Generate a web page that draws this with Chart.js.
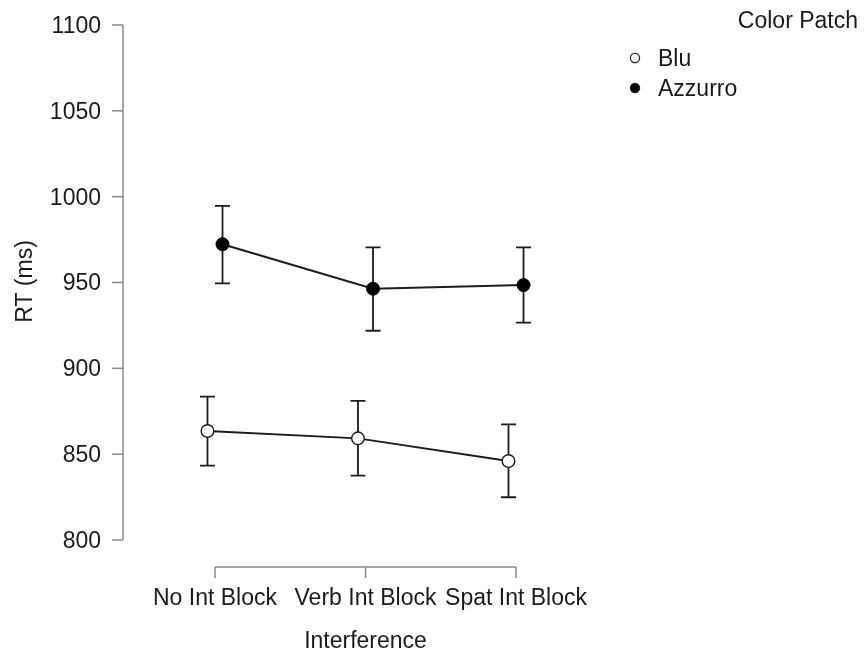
<!DOCTYPE html>
<html>
<head>
<meta charset="utf-8">
<script src="https://cdn.jsdelivr.net/npm/chart.js@4/dist/chart.umd.min.js"></script>
<style>
  html, body { margin: 0; padding: 0; background: #ffffff; }
  #wrap { width: 865px; height: 654px; }
</style>
</head>
<body>
<div id="wrap"><canvas id="c" width="865" height="654"></canvas></div>
<script>
// ---- data ----
const categories = ["No Int Block", "Verb Int Block", "Spat Int Block"];
const seriesNames = ["Blu", "Azzurro"];
const bluMean  = [863.5, 859.2, 846.0];
const bluUpper = [883.5, 881.0, 867.4];
const bluLower = [843.3, 837.5, 824.9];
const azzMean  = [972.3, 946.4, 948.5];
const azzUpper = [994.6, 970.5, 970.5];
const azzLower = [949.5, 921.9, 926.6];
const yTicks = [800, 850, 900, 950, 1000, 1050, 1100];
const xTitle = "Interference";
const yTitle = "RT (ms)";
const legendTitle = "Color Patch";

// ---- style ----
const FONT = '"Liberation Sans", Arial, sans-serif';
const FS = 23;
const TEXT = '#1a1a1a';
const AXIS = '#8a8a8a';
const INK = '#1c1c1c';
const DODGE = 0.05;

function pts(vals, off) { return vals.map((v, i) => ({ x: i + off, y: v })); }

const errData = [
  { off: -DODGE, upper: bluUpper, lower: bluLower },
  { off:  DODGE, upper: azzUpper, lower: azzLower }
];

const customDraw = {
  id: 'customDraw',
  beforeDatasetsDraw(chart) {
    const ctx = chart.ctx, xs = chart.scales.x, ys = chart.scales.y;
    ctx.save();
    // y axis
    ctx.strokeStyle = AXIS; ctx.lineWidth = 1.5;
    const ax = xs.left;
    ctx.beginPath();
    ctx.moveTo(ax, ys.getPixelForValue(yTicks[yTicks.length - 1]));
    ctx.lineTo(ax, ys.getPixelForValue(yTicks[0]));
    ctx.stroke();
    ctx.font = FS + 'px ' + FONT; ctx.fillStyle = TEXT;
    ctx.textAlign = 'right'; ctx.textBaseline = 'middle';
    yTicks.forEach(t => {
      const py = ys.getPixelForValue(t);
      ctx.beginPath(); ctx.moveTo(ax - 11, py); ctx.lineTo(ax, py); ctx.stroke();
      ctx.fillText(String(t), ax - 22, py + 1.5);
    });
    // x axis (R style, spans ticks only)
    const xy = 567;
    const x0 = xs.getPixelForValue(0), x1 = xs.getPixelForValue(categories.length - 1);
    ctx.beginPath(); ctx.moveTo(x0, xy); ctx.lineTo(x1, xy); ctx.stroke();
    ctx.textAlign = 'center'; ctx.textBaseline = 'alphabetic';
    categories.forEach((c, i) => {
      const px = xs.getPixelForValue(i);
      ctx.beginPath(); ctx.moveTo(px, xy); ctx.lineTo(px, xy + 11); ctx.stroke();
      ctx.fillText(c, px, 605);
    });
    // axis titles
    ctx.fillText(xTitle, xs.getPixelForValue(1), 648);
    ctx.save();
    ctx.translate(32, 281.5); ctx.rotate(-Math.PI / 2);
    ctx.fillText(yTitle, 0, 0);
    ctx.restore();
    // error bars
    ctx.strokeStyle = INK; ctx.lineWidth = 1.8;
    errData.forEach(e => {
      e.upper.forEach((u, i) => {
        const px = xs.getPixelForValue(i + e.off);
        const pu = ys.getPixelForValue(u), pl = ys.getPixelForValue(e.lower[i]);
        ctx.beginPath();
        ctx.moveTo(px, pu); ctx.lineTo(px, pl);
        ctx.moveTo(px - 7.5, pu); ctx.lineTo(px + 7.5, pu);
        ctx.moveTo(px - 7.5, pl); ctx.lineTo(px + 7.5, pl);
        ctx.stroke();
      });
    });
    ctx.restore();
  },
  afterDraw(chart) {
    const ctx = chart.ctx;
    ctx.save();
    ctx.font = FS + 'px ' + FONT; ctx.fillStyle = TEXT;
    ctx.textAlign = 'right'; ctx.textBaseline = 'alphabetic';
    ctx.fillText(legendTitle, 858, 27.5);
    ctx.textAlign = 'left';
    chart.data.datasets.forEach((ds, i) => {
      const cy = 58 + i * 30;
      ctx.beginPath(); ctx.arc(635, cy, 4.6, 0, Math.PI * 2);
      ctx.fillStyle = ds.pointBackgroundColor; ctx.fill();
      ctx.lineWidth = 1.2; ctx.strokeStyle = INK; ctx.stroke();
      ctx.fillStyle = TEXT;
      ctx.fillText(ds.label, 658, cy + 7.5);
    });
    ctx.restore();
  }
};

new Chart(document.getElementById('c'), {
  type: 'line',
  data: {
    datasets: [
      { label: seriesNames[0], data: pts(bluMean, -DODGE), borderColor: INK, borderWidth: 2,
        pointRadius: 6.3, pointBackgroundColor: '#ffffff', pointBorderColor: INK, pointBorderWidth: 1.4,
        tension: 0, fill: false },
      { label: seriesNames[1], data: pts(azzMean, DODGE), borderColor: INK, borderWidth: 2,
        pointRadius: 6.5, pointBackgroundColor: '#000000', pointBorderColor: '#000000', pointBorderWidth: 1,
        tension: 0, fill: false }
    ]
  },
  options: {
    responsive: false,
    animation: false,
    devicePixelRatio: 1,
    layout: { padding: { left: 123, top: 25, bottom: 114, right: 273.75 } },
    scales: {
      x: { type: 'linear', min: -0.6113, max: 2.5, display: false },
      y: { type: 'linear', min: 800, max: 1100, display: false }
    },
    plugins: { legend: { display: false }, tooltip: { enabled: false } }
  },
  plugins: [customDraw]
});
</script>
</body>
</html>
